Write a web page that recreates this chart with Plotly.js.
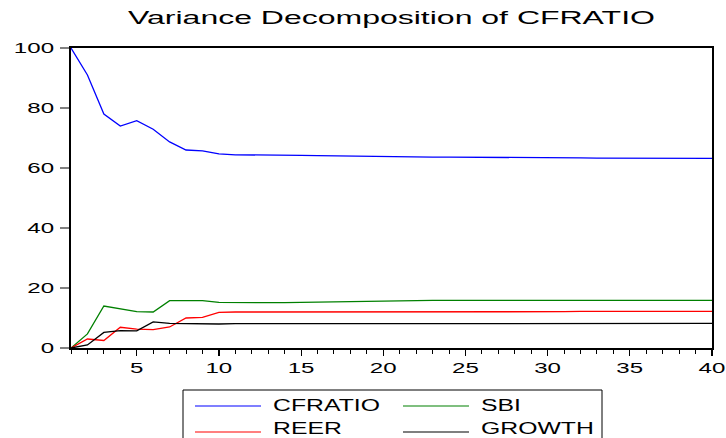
<!DOCTYPE html>
<html>
<head>
<meta charset="utf-8">
<script src="https://cdn.plot.ly/plotly-3.0.1.min.js"></script>
<style>html,body{margin:0;padding:0;background:#fff;}#chart{width:726px;height:438px;}</style>
</head>
<body>
<div id="chart"></div>
<script>
const periods = Array.from({length: 40}, (_, i) => i + 1);
const cfratio = [100, 91, 78, 74, 75.8, 72.9, 68.7, 66, 65.7, 64.7,
  64.4, 64.4, 64.3, 64.2, 64.2, 64.1, 64.0, 63.9, 63.9, 63.8,
  63.7, 63.7, 63.6, 63.6, 63.6, 63.5, 63.5, 63.5, 63.4, 63.4,
  63.4, 63.4, 63.3, 63.3, 63.3, 63.3, 63.3, 63.3, 63.3, 63.2];
const sbi = [0, 4.7, 14, 13, 12.1, 12.0, 15.8, 15.8, 15.8, 15.2,
  15.1, 15.1, 15.1, 15.1, 15.2, 15.3, 15.5, 15.6, 15.7, 15.8,
  15.8, 15.9, 15.9, 15.9, 15.9, 15.9, 15.9, 15.9, 15.9, 15.9,
  15.9, 15.9, 15.9, 15.9, 15.9, 15.9, 15.9, 15.9, 15.9, 15.9];
const reer = [0, 3.0, 2.5, 6.9, 6.3, 6.1, 7.0, 10.0, 10.2, 11.9,
  12.0, 12.0, 12.0, 12.0, 12.0, 12.0, 11.9, 11.9, 11.9, 11.9,
  11.9, 11.9, 11.9, 12.0, 12.0, 12.0, 12.0, 12.1, 12.1, 12.1,
  12.1, 12.2, 12.2, 12.2, 12.2, 12.2, 12.2, 12.2, 12.2, 12.2];
const growth = [0, 1.0, 5.2, 5.8, 5.7, 8.7, 8.2, 8.1, 8.2, 8.0,
  8.1, 8.1, 8.1, 8.1, 8.1, 8.1, 8.1, 8.1, 8.2, 8.2,
  8.2, 8.2, 8.2, 8.2, 8.2, 8.2, 8.2, 8.2, 8.2, 8.2,
  8.2, 8.2, 8.2, 8.2, 8.2, 8.2, 8.2, 8.2, 8.2, 8.2];
const seriesNames = ['CFRATIO', 'SBI', 'REER', 'GROWTH'];
const seriesColors = ['#0000ff', '#008000', '#ff0000', '#000000'];
const seriesData = [cfratio, sbi, reer, growth];
const xTickVals = [5, 10, 15, 20, 25, 30, 35, 40];
const yTickVals = [0, 20, 40, 60, 80, 100];

const W = 726, H = 438, L = 71, R = 712, T = 48, B = 348;
const px = v => (v - L) / (R - L);
const py = v => (B - v) / (B - T);

const traces = seriesData.map((d, i) => ({
  x: periods, y: d, type: 'scatter', mode: 'lines', name: seriesNames[i],
  line: {color: seriesColors[i], width: 1.3}, showlegend: false, hoverinfo: 'skip'
}));

// manual legend (EViews style, 2 columns)
const legendPos = [
  {lx: 195, ly: 406, tx: 271, ty: 405},
  {lx: 403, ly: 406, tx: 479, ty: 405},
  {lx: 195, ly: 432, tx: 271, ty: 428},
  {lx: 403, ly: 432, tx: 479, ty: 428}
];
const shapes = [{type: 'rect', xref: 'paper', yref: 'paper', x0: px(183), x1: px(602), y0: py(390), y1: py(450),
  line: {color: '#000', width: 1}, fillcolor: 'rgba(0,0,0,0)'}];
const annotations = [];
seriesNames.forEach((n, i) => {
  const p = legendPos[i];
  shapes.push({type: 'line', xref: 'paper', yref: 'paper', x0: px(p.lx), x1: px(p.lx + 66), y0: py(p.ly), y1: py(p.ly),
    line: {color: seriesColors[i], width: 1.2}});
  annotations.push({text: n, xref: 'paper', yref: 'paper', x: px(p.tx), y: py(p.ty), xanchor: 'left', yanchor: 'middle',
    showarrow: false, font: {family: 'Liberation Sans, Arial, sans-serif', size: 17, color: '#000'}});
});

const layout = {
  width: W, height: H,
  margin: {l: L, r: W - R, t: T, b: H - B},
  paper_bgcolor: '#fff', plot_bgcolor: '#fff',
  title: {text: 'Variance Decomposition of CFRATIO', xref: 'paper', x: 0.5, xanchor: 'center',
    yref: 'container', y: 1 - 17.5 / H, yanchor: 'middle',
    font: {family: 'Liberation Sans, Arial, sans-serif', size: 17.5, color: '#000'}},
  xaxis: {range: [1, 40], showgrid: false, zeroline: false, showline: true, linecolor: '#000', linewidth: 2, mirror: true,
    tickmode: 'array', tickvals: xTickVals, ticktext: xTickVals.map(String), ticks: 'outside', ticklen: 6, tickwidth: 1.2, tickcolor: '#000',
    minor: {tickmode: 'linear', tick0: 0, dtick: 1, ticks: 'outside', ticklen: 4, tickwidth: 1, tickcolor: '#000'},
    tickfont: {family: 'Liberation Sans, Arial, sans-serif', size: 14, color: '#000'}},
  yaxis: {range: [0, 100], showgrid: false, zeroline: false, showline: true, linecolor: '#000', linewidth: 2, mirror: true,
    tickmode: 'array', tickvals: yTickVals, ticktext: yTickVals.map(String), ticks: 'outside', ticklen: 9, tickwidth: 1.5, tickcolor: '#808080',
    ticklabelstandoff: 3,
    tickfont: {family: 'Liberation Sans, Arial, sans-serif', size: 14, color: '#000'}},
  shapes: shapes,
  annotations: annotations,
  showlegend: false
};

function stretch(nodes, s, mode) {
  nodes.forEach(el => {
    const b = el.getBBox();
    let ax;
    if (mode === 'left') ax = b.x;
    else if (mode === 'right') ax = b.x + b.width;
    else ax = b.x + b.width / 2;
    const ex = el.getAttribute('transform') || '';
    el.setAttribute('transform', ex + ' translate(' + ax + ',0) scale(' + s + ',1) translate(' + (-ax) + ',0)');
  });
}

Plotly.newPlot('chart', traces, layout, {staticPlot: true, displayModeBar: false}).then(gd => {
  const title = gd.querySelectorAll('.gtitle');
  if (title.length) {
    const s = 527 / title[0].getBBox().width;
    stretch(Array.from(title), s, 'center');
  }
  stretch(Array.from(gd.querySelectorAll('.xtick text')), 1.72, 'center');
  stretch(Array.from(gd.querySelectorAll('.ytick text')), 1.72, 'right');
  const ann = Array.from(gd.querySelectorAll('.annotation-text'));
  if (ann.length) {
    const s = 107 / ann[0].getBBox().width;
    stretch(ann, s, 'left');
  }
});
</script>
</body>
</html>
